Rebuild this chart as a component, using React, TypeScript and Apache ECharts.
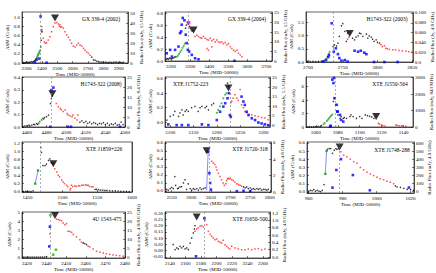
import React, { useEffect, useRef } from "react";
import * as echarts from "echarts";

const FONT = "Liberation Serif";

// ---------- Panel 1: GX 339-4 (2002)
const p1XTicks = [2300, 2400, 2500, 2600, 2700, 2800, 2900];
const p1LTicks = [0, 0.2, 0.4, 0.6, 0.8, 1.0];
const p1RTicks = [0, 10, 20, 30, 40, 50];
const p1Black = [[2278,0.01],[2285,0.0],[2292,0.01],[2300,0.02],[2308,0.01],[2315,0.02],[2322,0.01],[2330,0.03],[2338,0.02],[2345,0.03],[2352,0.05],[2358,0.07],[2392,0.35],[2395,0.5],[2397,0.68],[2399,0.72],[2724,0.13],[2735,0.07],[2746,0.06],[2757,0.04],[2768,0.03],[2778,0.02],[2790,0.02],[2800,0.015],[2811,0.02],[2822,0.015],[2833,0.01],[2843,0.02],[2854,0.01],[2865,0.015],[2876,0.02],[2887,0.02],[2898,0.01],[2909,0.015],[2920,0.01],[2930,0.015]];
const p1Green = [[2362,0.08],[2366,0.11],[2369,0.13],[2372,0.16],[2375,0.18],[2378,0.2],[2381,0.22],[2384,0.25],[2387,0.27]];
const p1Red = [[2398,0.79],[2402,0.68],[2409,0.54],[2415,0.46],[2422,0.43],[2430,0.44],[2441,0.5],[2452,0.57],[2463,0.68],[2474,0.79],[2485,0.87],[2496,0.88],[2507,0.85],[2512,0.8],[2517,0.83],[2522,0.78],[2528,0.79],[2539,0.76],[2550,0.68],[2561,0.61],[2572,0.56],[2583,0.5],[2593,0.43],[2604,0.37],[2615,0.35],[2626,0.39],[2637,0.43],[2648,0.39],[2659,0.37],[2670,0.32],[2680,0.28],[2691,0.24],[2702,0.21],[2713,0.17]];
const p1Radio = [[2354,1],[2365,3.4],[2383,4.4],[2391,46.6],[2430,0.3]];
const p1Peak = [[2485,0.98]];
const p1Trans = 2391;

// ---------- Panel 2: GX 339-4 (2004)
const p2XTicks = [3200, 3300, 3400, 3500, 3600, 3700];
const p2LTicks = [0, 0.2, 0.4, 0.6, 0.8];
const p2RTicks = [0, 5, 10, 15, 20, 25];
const p2Black = [[3175,0.03],[3180,0.04],[3186,0.03],[3192,0.05],[3198,0.04],[3204,0.04],[3210,0.05],[3216,0.06],[3222,0.07],[3276,0.55],[3280,0.6],[3285,0.65],[3290,0.62],[3296,0.58],[3300,0.55],[3305,0.52],[3310,0.5]];
const p2Green = [[3230,0.07],[3236,0.09],[3242,0.12],[3248,0.15],[3254,0.18],[3260,0.22],[3266,0.25],[3272,0.29]];
const p2Red = [[3326,0.41],[3335,0.43],[3344,0.41],[3353,0.39],[3361,0.38],[3370,0.41],[3379,0.38],[3388,0.36],[3388,0.21],[3396,0.35],[3396,0.18],[3405,0.38],[3414,0.34],[3414,0.24],[3423,0.36],[3432,0.32],[3440,0.35],[3449,0.32],[3458,0.31],[3467,0.32],[3475,0.29],[3484,0.31],[3493,0.27],[3502,0.29],[3511,0.24],[3519,0.21],[3528,0.18],[3537,0.16],[3546,0.18],[3554,0.13],[3563,0.1],[3572,0.07]];
const p2Magenta = [[3292,0.64]];
const p2Radio = [[3177,4.0],[3195,5.8],[3204,2.3],[3221,5.8],[3239,7.5],[3247,14.5],[3253,15.4],[3256,18.9],[3261,22.4],[3270,21.2],[3277,13.7],[3282,9.3],[3288,5.8],[3295,4.9],[3309,3.2],[3326,1.4],[3344,0.9],[3533,0.1]];
const p2Peak = [[3318,0.52]];
const p2Trans = 3288;

// ---------- Panel 3: H1743-322 (2003)
const p3XTicks = [2700, 2750, 2800, 2850];
const p3LTicks = [0, 0.5, 1.0, 1.5];
const p3RTicks = [0, 0.02, 0.04, 0.06, 0.08, 0.1];
const p3Black = [[2699,0.02],[2703,0.01],[2707,0.02],[2711,0.01],[2715,0.02],[2719,0.03],[2722,0.03],[2736,0.58],[2738,0.65],[2741,0.61],[2743,0.71],[2745,0.97],[2748,1.37],[2750,1.45],[2753,1.16],[2755,0.78],[2757,1.09],[2764,0.9],[2767,0.84],[2769,0.94],[2772,0.99],[2774,1.09],[2776,1.07],[2779,0.97],[2784,1.05],[2786,0.9],[2788,0.99],[2791,0.94],[2793,0.86],[2795,0.78],[2798,0.84],[2800,0.74],[2803,0.71]];
const p3Green = [[2724,0.06],[2726,0.12],[2728,0.2],[2730,0.3],[2731,0.38]];
const p3Red = [[2757,0.86],[2759,0.94],[2805,0.65],[2807,0.58],[2810,0.61],[2812,0.52],[2814,0.5],[2817,0.48],[2822,0.46],[2826,0.46],[2831,0.43],[2836,0.42],[2841,0.41],[2845,0.39],[2850,0.38]];
const p3Radio = [[2722,0.001],[2726,0.004],[2729,0.01],[2730,0.014],[2734,0.079],[2737,0.021],[2740,0.028],[2743,0.016],[2745,0.008],[2748,0.003],[2753,0.004],[2757,0.001],[2767,0.023],[2772,0.021],[2776,0.023],[2781,0.019],[2784,0.016],[2795,0],[2810,0],[2829,0]];
const p3Peak = [[2760,1.08]];
const p3Trans = 2736;

// ---------- Panel 4: H1743-322 (2008)
const p4XTicks = [4460, 4480, 4500, 4520, 4540, 4560];
const p4LTicks = [0, 0.1, 0.2, 0.3, 0.4];
const p4RTicks = [0, 5, 10, 15, 20, 25];
const p4Black = [[4456,0.003],[4458,0.008],[4460,0.01],[4462,0.016],[4463,0.008],[4465,0.016],[4467,0.022],[4468,0.019],[4470,0.027],[4471,0.022],[4477,0.065],[4478,0.076],[4480,0.084],[4482,0.097],[4484,0.19],[4485,0.23],[4485.5,0.25],[4514,0.04],[4516,0.05],[4518,0.035],[4520,0.045],[4522,0.03],[4524,0.04],[4526,0.025],[4528,0.035],[4530,0.03],[4532,0.02],[4534,0.03],[4536,0.025],[4538,0.035],[4540,0.02],[4542,0.03],[4544,0.015],[4546,0.025],[4548,0.02],[4550,0.03],[4552,0.015],[4554,0.02],[4556,0.04],[4558,0.02]];
const p4Green = [[4472,0.03],[4473,0.043],[4475,0.057],[4476,0.07]];
const p4Red = [[4490,0.19],[4492,0.165],[4494,0.15],[4495,0.14],[4497,0.125],[4499,0.138],[4501,0.11],[4502,0.097],[4504,0.092],[4506,0.084],[4507,0.097],[4509,0.07],[4511,0.057],[4512,0.097]];
const p4Radio = [[4485,18.5],[4487,19.7],[4484,0.1],[4502,0.1],[4505,0.1],[4555,0.1]];
const p4Peak = [[4486,0.27]];
const p4Trans = 4485;

// ---------- Panel 5: XTE J1752-223
const p5XTicks = [5100, 5150, 5200, 5250, 5300];
const p5LTicks = [0, 0.2, 0.4, 0.6];
const p5RTicks = [0, 5, 10, 15, 20, 25];
const p5Black = [[5093,0.03],[5100,0.08],[5107,0.1],[5110,0.15],[5118,0.08],[5121,0.13],[5125,0.17],[5128,0.1],[5132,0.15],[5135,0.17],[5139,0.15],[5146,0.2],[5153,0.22],[5160,0.15],[5164,0.2],[5168,0.22],[5175,0.2],[5178,0.22],[5182,0.17],[5189,0.24],[5193,0.26],[5223,0.54],[5225,0.5]];
const p5Green = [[5200,0.13],[5203,0.17],[5207,0.22],[5210,0.26],[5214,0.33],[5218,0.38],[5221,0.4]];
const p5Red = [[5230,0.27],[5232,0.29],[5235,0.33],[5239,0.38],[5243,0.33],[5246,0.3],[5250,0.45],[5253,0.24],[5257,0.2],[5260,0.15],[5264,0.13],[5268,0.11],[5275,0.1],[5282,0.09],[5289,0.08],[5296,0.065],[5303,0.06],[5310,0.035]];
const p5Radio = [[5096,0.4],[5114,0],[5125,0],[5139,0],[5168,0.4],[5182,0],[5200,2.7],[5207,7.1],[5214,9.8],[5218,11.6],[5223,14.2],[5226,16.9],[5228,5.3],[5230,4.4],[5253,15.1],[5257,12.5],[5260,10.7],[5264,7.1],[5268,5.3],[5275,3.6],[5282,2.7],[5289,1.4],[5296,0.9],[5303,0.4],[5310,0]];
const p5Peak = [[5225,0.47]];
const p5Trans = 5228;

// ---------- Panel 6: XTE J1550-564
const p6XTicks = [1060, 1080, 1100, 1120, 1140];
const p6LTicks = [0, 2, 4, 6];
const p6RTicks = [0, 1000, 2000, 3000];
const p6Black = [[1052,0],[1054,0.05],[1056,0],[1058,0.05],[1060,0.05],[1062,0.1],[1064,0.1],[1065,0.2],[1076,3.8],[1077,4.3],[1078,3.3],[1079,2.3],[1080,1.8],[1082,1.3],[1083,1.55],[1085,1.3],[1086,1.4],[1088,1.3],[1091,1.55],[1092,1.8],[1094,1.55],[1097,1.3],[1100,1.55],[1102,1.3],[1105,1.8],[1107,1.7],[1109,1.6],[1111,1.5],[1113,1.3]];
const p6Green = [[1067,0.4],[1068,0.6],[1070,0.9],[1071,1.1],[1072,1.3],[1073,1.5],[1074,1.7],[1075,1.85]];
const p6Red = [[1117,0.55],[1118,0.4],[1120,0.3],[1121,0.2],[1123,0.15],[1133,0.3],[1134,0.25],[1136,0.2],[1138,0.15],[1139,0.2],[1142,0.1]];
const p6Radio = [[1073,20],[1073.5,80],[1075,2880],[1076,2670],[1076.5,2980],[1077,1750],[1079,1350],[1079.5,940],[1080,940],[1082,735],[1083,430],[1085,330]];
const p6Peak = [[1115,1.55]];
const p6Trans = 1078;

// ---------- Panel 7: XTE J1859+226
const p7XTicks = [1450, 1500, 1550, 1600];
const p7LTicks = [0, 0.2, 0.4, 0.6, 0.8, 1.0, 1.2];
const p7Black = [[1444,0],[1447,0.01],[1449,0],[1452,0.01],[1455,0],[1458,0.02],[1469,1.1],[1470,0.98],[1472,0.65],[1475,0.65],[1477,0.69],[1480,0.78],[1482,0.82],[1484,0.72],[1486,0.7],[1547,0.06],[1549,0.06],[1552,0.05],[1555,0.04],[1558,0.04],[1561,0.03],[1564,0.03],[1568,0.025],[1572,0.02],[1576,0.02],[1580,0.015],[1584,0.01],[1588,0.01],[1592,0.01],[1596,0]];
const p7Rise = [[1461,0.2],[1465,0.53]];
const p7Red = [[1489,0.57],[1492,0.49],[1494,0.41],[1496,0.37],[1499,0.29],[1501,0.24],[1503,0.2],[1506,0.16],[1508,0.12],[1511,0.04],[1512,0.08],[1513,0.16],[1515,0.13],[1518,0.14],[1520,0.13],[1523,0.15],[1525,0.14],[1528,0.16],[1530,0.16],[1533,0.17],[1535,0.16],[1537,0.16],[1539,0.13],[1542,0.12],[1544,0.12]];
const p7Peak = [[1487,0.7]];
const p7Trans = 1468;

// ---------- Panel 8: XTE J1720-318
const p8XTicks = [2550, 2600, 2650, 2700, 2750, 2800];
const p8LTicks = [0, 0.1, 0.2, 0.3, 0.4, 0.5, 0.6];
const p8RTicks = [0, 2, 4, 6];
const p8Black = [[2537,0.02],[2541,0.01],[2546,0.03],[2550,0.045],[2554,0.03],[2558,0.18],[2560,0.07],[2565,0.03],[2567,0.035],[2571,0.05],[2575,0.055],[2580,0.1],[2584,0.14],[2588,0.02],[2592,0.09],[2597,0.03],[2601,0.01],[2605,0.03],[2609,0.02],[2614,0.03],[2618,0.01],[2622,0.04],[2626,0.02],[2631,0.03],[2635,0.04],[2733,0.05],[2737,0.04],[2741,0.05],[2745,0.03],[2750,0.04],[2754,0.02],[2758,0.03],[2762,0.02],[2767,0.03],[2771,0.02],[2775,0.03],[2779,0.01],[2784,0.02],[2788,0.02],[2792,0.01],[2796,0.02]];
const p8Rise = [[2639,0.01],[2640,0.12],[2641,0.25],[2642,0.38],[2643,0.47]];
const p8Red = [[2652,0.37],[2656,0.35],[2660,0.33],[2663,0.3],[2665,0.26],[2669,0.22],[2673,0.18],[2677,0.14],[2681,0.1],[2684,0.07],[2688,0.09],[2690,0.13],[2692,0.15],[2694,0.16],[2697,0.15],[2699,0.16],[2703,0.14],[2707,0.13],[2711,0.11],[2716,0.09],[2720,0.08],[2724,0.07],[2728,0.06]];
const p8Radio = [[2643,4.9],[2646,2.3],[2648,1.1],[2650,0.3],[2716,0.1],[2733,0.15],[2750,0.1]];
const p8Peak = [[2639,0.5]];
const p8Trans = 2645;

// ---------- Panel 9: XTE J1748-288
const p9XTicks = [960, 980, 1000, 1020];
const p9LTicks = [0, 0.1, 0.2, 0.3, 0.4, 0.5, 0.6];
const p9RTicks = [0, 100, 200, 300, 400, 500, 600];
const p9Black = [[960,0.01],[961,0.02],[962,0.015],[963,0.03],[964,0.01],[965,0.02],[966,0.01],[967,0.005],[968,0.02],[969,0.09],[971,0.52],[972,0.53],[973,0.53],[974,0.47],[975,0.51],[976,0.53],[976.6,0.52],[977.6,0.53],[1011,0.075],[1012,0.063],[1014,0.055],[1016,0.045],[1018,0.033],[1020,0.03],[1021.7,0.02]];
const p9Rise = [[969.8,0.22],[970.5,0.5]];
const p9Red = [[979,0.49],[980.6,0.45],[982.5,0.43],[984.5,0.4],[986.5,0.37],[988.4,0.35],[990.4,0.3],[992.3,0.27],[994.3,0.24],[996.3,0.22],[998.2,0.2],[1000.2,0.18],[1002.1,0.16],[1004.1,0.15],[1006,0.13],[1008,0.12],[1010,0.1]];
const p9Radio = [[979,400],[976.3,265],[974,46],[986,202],[996,13],[1019,46]];
const p9Peak = [[978.2,0.55]];
const p9Trans = 978.2;

// ---------- Panel 10: 4U 1543-475
const p10XTicks = [2430, 2440, 2450, 2460, 2470, 2480];
const p10LTicks = [0, 1, 2, 3, 4, 5];
const p10RTicks = [0, 5, 10, 15, 20, 25];
const p10Black = [[2428,0],[2429,0],[2430,0],[2431,0],[2432,0],[2433,0],[2434,0],[2435,0],[2436,0],[2437,0],[2438,0],[2439,0],[2440,0.05],[2458.7,1.59],[2459.5,1.52],[2460.4,1.4]];
const p10Red = [[2441.7,2.6],[2445.1,4.3],[2446,4.24],[2446.8,4.17],[2447.7,4.1],[2448.5,3.86],[2449.4,3.67],[2450.2,3.79],[2451,2.92],[2451.9,2.88],[2452.8,2.8],[2453.6,2.54],[2455.3,2.27],[2457,1.97],[2457.8,1.67],[2461.2,1.21],[2462,1.14],[2463.8,0.91],[2465.5,0.64],[2467.2,0.53],[2468.9,0.45],[2470.5,0.38],[2472.2,0.3],[2473.9,0.23],[2475.6,0.19],[2477.3,0.15],[2479,0.08]];
const p10Radio = [[2441.7,17.2],[2441.4,6.0]];
const p10RadioB = [[2442,23.7],[2444.8,4.1],[2443.4,1.3]];
const p10Peak = [[2444.3,4.7]];
const p10Trans = 2441.7;

// ---------- Panel 11: XTE J1650-500
const p11XTicks = [2140, 2160, 2180, 2200, 2220, 2240, 2260];
const p11LTicks = [-0.05, 0, 0.05, 0.1, 0.15, 0.2, 0.25, 0.3];
const p11RTicks = [0, 0.2, 0.4, 0.6, 0.8, 1.0, 1.2];
const p11Black = [[2144,0.048],[2146.4,0.008],[2148.6,0.022],[2150.7,0.014],[2152.9,0.035],[2155,0.022],[2157.2,0.035],[2159.3,0.014],[2161.5,0.022],[2163.6,0.008],[2165.8,0.061],[2167.9,0.101],[2170,0.141],[2171.3,0.173],[2172.2,0.199]];
const p11Red = [[2172.2,0.154],[2174.4,0.173],[2176.5,0.181],[2178.7,0.194],[2180.8,0.199],[2183,0.189],[2185.1,0.242],[2187.3,0.207],[2189.4,0.154],[2191.6,0.128],[2193.7,0.114],[2195.9,0.101],[2198,0.088],[2200.2,0.093],[2202.3,0.075],[2204.5,0.067],[2206.6,0.061],[2208.8,0.083],[2210.9,0.048],[2213.1,0.035],[2215.2,0.022],[2217.4,0.014],[2219.5,0.035],[2223.8,0.022],[2228.1,0.014],[2232.4,0.008],[2236.7,0.008],[2241,0.014],[2245.3,0.008],[2249.6,0.014],[2253.9,0.016],[2258.2,0.008],[2262.5,0.014]];
const p11Radio = [[2173.5,0.02],[2184.3,1.06]];
const p11Peak = [[2174.4,0.268]];
const p11Trans = 2184.3;

type P = {
  title: string; tx: number; ty: number; talign?: string;
  g: [number, number, number, number];
  x: [number, number]; l: [number, number]; r?: [number, number];
  xt: number[]; lt: number[]; rt?: number[]; ld: number; rd?: number;
  rname?: string;
  black: number[][]; green?: number[][]; red: number[][]; radio?: number[][]; radioB?: number[][];
  magenta?: number[][]; rise?: number[][]; riseStyle?: string; peak: number[][]; trans: number;
};

const panels: P[] = [
  { title: "GX 339-4 (2002)", tx: 101, ty: 19, g: [22, 12, 106, 51], x: [2270, 2960], l: [0, 1.11], r: [0, 51], xt: p1XTicks, lt: p1LTicks, rt: p1RTicks, ld: 1, rd: 0, rname: "Radio Flux (mJy, 15 GHz)", black: p1Black, green: p1Green, red: p1Red, radio: p1Radio, peak: p1Peak, trans: p1Trans },
  { title: "GX 339-4 (2004)", tx: 247, ty: 19, g: [165, 12, 107, 49], x: [3168, 3730], l: [0, 0.82], r: [0, 25.5], xt: p2XTicks, lt: p2LTicks, rt: p2RTicks, ld: 1, rd: 0, rname: "Radio Flux (mJy, 15 GHz)", black: p2Black, green: p2Green, red: p2Red, radio: p2Radio, magenta: p2Magenta, peak: p2Peak, trans: p2Trans },
  { title: "H1743-322 (2003)", tx: 387, ty: 19, g: [306, 12, 108, 50], x: [2697, 2851], l: [0, 1.89], r: [0, 0.102], xt: p3XTicks, lt: p3LTicks, rt: p3RTicks, ld: 1, rd: 3, rname: "Radio Flux (Jy, 4.8 GHz)", black: p3Black, green: p3Green, red: p3Red, radio: p3Radio, peak: p3Peak, trans: p3Trans },
  { title: "H1743-322 (2008)", tx: 101, ty: 84, g: [22, 77, 103, 50], x: [4455, 4560], l: [0, 0.405], r: [0, 25], xt: p4XTicks, lt: p4LTicks, rt: p4RTicks, ld: 1, rd: 0, rname: "Radio Flux (mJy, 8.4 GHz)", black: p4Black, green: p4Green, red: p4Red, radio: p4Radio, peak: p4Peak, trans: p4Trans },
  { title: "XTE J1752-223", tx: 173, ty: 84, talign: "left", g: [165, 77, 105, 50], x: [5089, 5314], l: [-0.065, 0.623], r: [-1, 25.5], xt: p5XTicks, lt: p5LTicks, rt: p5RTicks, ld: 1, rd: 0, rname: "Radio Flux (mJy, 5.5 GHz)", black: p5Black, green: p5Green, red: p5Red, radio: p5Radio, peak: p5Peak, trans: p5Trans },
  { title: "XTE J1550-564", tx: 390, ty: 84, g: [306, 77, 107, 50], x: [1051, 1148.6], l: [0, 7.45], r: [0, 3040], xt: p6XTicks, lt: p6LTicks, rt: p6RTicks, ld: 0, rd: 0, rname: "Radio Flux (mJy, 843 MHz)", black: p6Black, green: p6Green, red: p6Red, radio: p6Radio, peak: p6Peak, trans: p6Trans },
  { title: "XTE J1859+226", tx: 104, ty: 149, g: [22, 142, 110, 50], x: [1442, 1600], l: [-0.008, 1.24], xt: p7XTicks, lt: p7LTicks, ld: 1, black: p7Black, red: p7Red, rise: p7Rise, riseStyle: "gline", peak: p7Peak, trans: p7Trans },
  { title: "XTE J1720-318", tx: 250, ty: 149, g: [165, 142, 106, 50], x: [2533, 2803], l: [-0.0125, 0.61], r: [0, 6.12], xt: p8XTicks, lt: p8LTicks, rt: p8RTicks, ld: 1, rd: 0, rname: "Radio Flux (mJy, 4.8 GHz)", black: p8Black, red: p8Red, radio: p8Radio, rise: p8Rise, riseStyle: "bline", peak: p8Peak, trans: p8Trans },
  { title: "XTE J1748-288", tx: 392, ty: 150, g: [307, 142, 107, 51], x: [959, 1022], l: [-0.0125, 0.61], r: [-21, 613], xt: p9XTicks, lt: p9LTicks, rt: p9RTicks, ld: 1, rd: 0, rname: "Radio Flux (mJy, 4.9 GHz)", black: p9Black, red: p9Red, radio: p9Radio, rise: p9Rise, riseStyle: "gline", peak: p9Peak, trans: p9Trans },
  { title: "4U 1543-475", tx: 107, ty: 219, g: [22, 212, 103, 46], x: [2427.5, 2480], l: [-0.11, 5.1], r: [-0.56, 25.5], xt: p10XTicks, lt: p10LTicks, rt: p10RTicks, ld: 0, rd: 0, rname: "Radio Flux (mJy, 4.8/8.6 GHz)", black: p10Black, red: p10Red, radio: p10Radio, radioB: p10RadioB, peak: p10Peak, trans: p10Trans },
  { title: "XTE J1650-500", tx: 250, ty: 219, g: [165, 212, 105, 46], x: [2133.5, 2269], l: [-0.058, 0.308], r: [-0.027, 1.23], xt: p11XTicks, lt: p11LTicks, rt: p11RTicks, ld: 2, rd: 1, rname: "Radio Flux (mJy, 4.8 GHz)", black: p11Black, red: p11Red, radio: p11Radio, peak: p11Peak, trans: p11Trans },
];

const fmt = (d: number) => (v: number) => (Math.abs(v) < 1e-9 ? (d === 0 ? "0" : d >= 3 ? "0.0" : (0).toFixed(d)) : Number(v).toFixed(d));

function buildOption() {
  const grid: any[] = [];
  const xAxis: any[] = [];
  const yAxis: any[] = [];
  const series: any[] = [];
  const graphic: any[] = [];
  const lab = { fontFamily: FONT, fontSize: 5, color: "#000" };
  panels.forEach((p, i) => {
    const [left, top, w, h] = p.g;
    grid.push({ left, top, width: w, height: h, show: true, borderColor: "#000", borderWidth: 0.6, containLabel: false });
    xAxis.push({
      type: "value", gridIndex: i, min: p.x[0], max: p.x[1],
      name: "Time (MJD-50000)", nameLocation: "middle", nameGap: 9,
      nameTextStyle: { ...lab },
      axisLine: { show: true, onZero: false, lineStyle: { color: "#000", width: 0.6 } },
      axisTick: { inside: true, length: 2, customValues: p.xt, lineStyle: { color: "#000", width: 0.5 } },
      axisLabel: { ...lab, margin: 2.5, customValues: p.xt, formatter: (v: number) => String(v) },
      splitLine: { show: false },
    });
    const ly = yAxis.length;
    yAxis.push({
      type: "value", gridIndex: i, min: p.l[0], max: p.l[1], position: "left",
      name: "ASM (Crab)", nameLocation: "middle", nameGap: p.ld >= 2 ? 14 : 10, nameRotate: 90,
      nameTextStyle: { ...lab },
      axisLine: { show: true, onZero: false, lineStyle: { color: "#000", width: 0.6 } },
      axisTick: { inside: true, length: 2, customValues: p.lt, lineStyle: { color: "#000", width: 0.5 } },
      axisLabel: { ...lab, margin: 2, customValues: p.lt, formatter: fmt(p.ld) },
      splitLine: { show: false },
    });
    const ry = yAxis.length;
    yAxis.push({
      type: "value", gridIndex: i, min: p.r ? p.r[0] : 0, max: p.r ? p.r[1] : 1, position: "right",
      name: p.rname || "", nameLocation: "middle", nameGap: p.rd === 3 ? 15 : p.rt && p.rt[p.rt.length - 1] >= 1000 ? 14 : 9, nameRotate: 90,
      nameTextStyle: { ...lab },
      axisLine: { show: true, onZero: false, lineStyle: { color: "#000", width: 0.6 } },
      axisTick: { show: !!p.rt, inside: true, length: 2, customValues: p.rt || [], lineStyle: { color: "#000", width: 0.5 } },
      axisLabel: { show: !!p.rt, ...lab, margin: 2, customValues: p.rt || [], formatter: fmt(p.rd || 0) },
      splitLine: { show: false },
    });
    const base = { xAxisIndex: i, silent: true, type: "scatter" };
    series.push({
      ...base, yAxisIndex: ly, data: p.black, symbol: "circle", symbolSize: 1.5,
      itemStyle: { color: "#000" },
      markLine: {
        silent: true, symbol: ["none", "none"], label: { show: false },
        lineStyle: { type: [2, 2], color: "#777", width: 0.6 },
        data: [{ xAxis: p.trans }],
      },
    });
    if (p.green) series.push({ ...base, yAxisIndex: ly, data: p.green, symbol: "rect", symbolSize: 1.8, itemStyle: { color: "#1aa01a" } });
    series.push({ ...base, yAxisIndex: ly, data: p.red, symbol: "rect", symbolSize: 1.5, itemStyle: { color: "#ff2020" } });
    if (p.rise) {
      series.push({
        xAxisIndex: i, yAxisIndex: ly, type: "line", silent: true, data: p.rise,
        symbol: p.riseStyle === "gline" ? "rect" : "none", symbolSize: 2.2,
        lineStyle: { color: "#6a6aff", width: 0.8 }, itemStyle: { color: "#1aa01a" },
      });
    }
    if (p.magenta) series.push({ ...base, yAxisIndex: ly, data: p.magenta, symbol: "rect", symbolSize: 3.5, itemStyle: { color: "#ff00ff" } });
    if (p.radio) series.push({ ...base, yAxisIndex: ry, data: p.radio, symbol: "rect", symbolSize: 2.6, itemStyle: { color: "#0000ff" } });
    if (p.radioB) series.push({ ...base, yAxisIndex: ry, data: p.radioB, symbol: "rect", symbolSize: 2.6, itemStyle: { color: "#10c010" } });
    series.push({ ...base, yAxisIndex: ly, data: p.peak, symbol: "triangle", symbolRotate: 180, symbolSize: [8, 7], itemStyle: { color: "#000" } });
    graphic.push({
      type: "text", x: p.tx, y: p.ty, silent: true,
      style: { text: p.title, fontFamily: FONT, fontSize: 5.5, fill: "#000", textAlign: p.talign || "center", textVerticalAlign: "middle" },
    });
  });
  return { animation: false, backgroundColor: "#fff", grid, xAxis, yAxis, series, graphic };
}

export default function App() {
  const ref = useRef<HTMLDivElement>(null);
  useEffect(() => {
    if (!ref.current) return;
    const chart = echarts.init(ref.current, null, { renderer: "svg" });
    chart.setOption(buildOption() as any);
    return () => chart.dispose();
  }, []);
  return <div ref={ref} style={{ width: 436, height: 273, position: "absolute", left: 0, top: 0 }} />;
}
